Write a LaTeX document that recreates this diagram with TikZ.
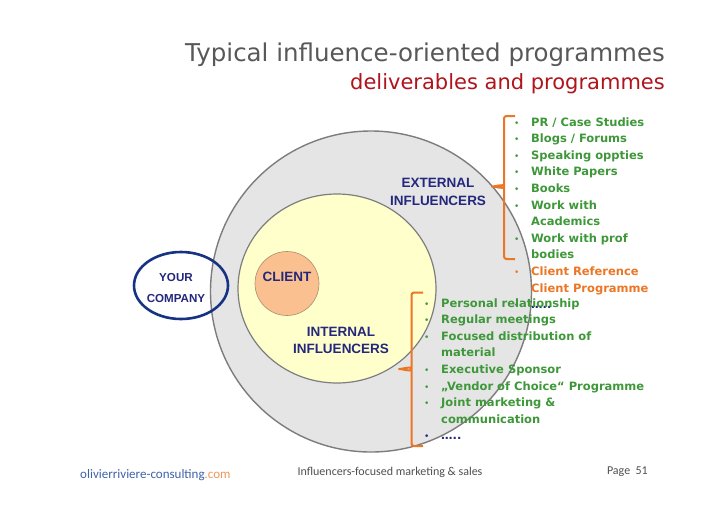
\documentclass[tikz,border=0pt]{standalone}
\usepackage{fontspec}
\setmainfont{DejaVu Sans}
\newfontfamily\arialfont{Liberation Sans}
\newfontfamily\footfont{Carlito}
\usepackage{xcolor}
\usetikzlibrary{positioning, shapes.geometric}
\definecolor{TitleGray}{RGB}{88,88,88}
\definecolor{SubRed}{RGB}{176,20,28}
\definecolor{ItemGreen}{RGB}{62,152,58}
\definecolor{BraceOrange}{RGB}{236,118,36}
\definecolor{LabelBlue}{RGB}{36,40,124}
\definecolor{CompanyBlue}{RGB}{22,50,130}
\definecolor{RingGray}{RGB}{229,229,229}
\definecolor{EdgeGray}{RGB}{125,125,125}
\definecolor{CoreYellow}{RGB}{255,255,204}
\definecolor{ClientPeach}{RGB}{250,192,143}
\definecolor{ClientEdge}{RGB}{170,140,110}
\definecolor{SiteBlue}{RGB}{62,98,168}
\definecolor{SiteOrange}{RGB}{240,150,90}
\definecolor{FootGray}{RGB}{80,80,80}
% bullet and empty slot for the lists
\newcommand{\bl}{\makebox[17pt][l]{\mdseries\fontsize{9}{9}\selectfont\textbullet}}
\newcommand{\nb}{\hspace*{17pt}}
\tikzset{
  % rings
  ring/.style={circle,draw=EdgeGray,line width=1.4pt,fill=RingGray,minimum size=321pt,inner sep=0},
  core/.style={ellipse,draw=EdgeGray,line width=1.2pt,fill=CoreYellow,minimum width=198pt,minimum height=189pt,inner sep=0},
  client disc/.style={circle,draw=ClientEdge,line width=0.6pt,fill=ClientPeach,minimum size=64pt,inner sep=0},
  company/.style={ellipse,draw=CompanyBlue,line width=2.6pt,minimum width=94pt,minimum height=67pt,inner sep=0},
  % texts
  zone text/.style={font=\arialfont\bfseries\fontsize{13.5}{17.5}\selectfont,text=LabelBlue,align=center,inner sep=0},
  list box/.style={anchor=base west,inner sep=0,font=\bfseries\fontsize{11.5}{16.6}\selectfont,text=ItemGreen},
  foot/.style={font=\footfont\fontsize{12}{14}\selectfont,inner sep=0},
  % brackets
  bracket/.style={draw=BraceOrange,line width=2pt,rounded corners=2.5pt}
}

\begin{document}
\begin{tikzpicture}[x=1pt,y=-1pt]
  \useasboundingbox[fill=white] (0,0) rectangle (728,515);
  % title
  \node[anchor=base east,inner sep=0,font=\fontsize{24.5}{28}\selectfont,text=TitleGray]
    (title) at (665,61.5) {Typical influence-oriented programmes};
  \node[anchor=base east,inner sep=0,font=\fontsize{21}{24}\selectfont,text=SubRed]
    (subtitle) at (665,89) {deliverables and programmes};
  % circles
  \node[ring] (outer) at (371,291.5) {};
  \node[core] (inner) at (337,288.5) {};
  \node[client disc] (client) at (287,283.5) {};
  \node[company] (yourco) at (181,285.5) {};
  % circle labels
  \node[zone text] (clientlbl) at (287,277) {CLIENT};
  \node[zone text,font=\arialfont\bfseries\fontsize{11.6}{20.7}\selectfont]
    (yourcolbl) at (176,288.3) {YOUR\\COMPANY};
  \node[zone text] (extlbl) at (438,192) {EXTERNAL\\INFLUENCERS};
  \node[zone text,font=\arialfont\bfseries\fontsize{13.5}{16.7}\selectfont]
    (intlbl) at (341,340.3) {INTERNAL\\INFLUENCERS};
  % external list
  \node[list box] (extlist) at (514,126) {\begin{tabular}[t]{@{}l@{}}
    \bl PR / Case Studies\\
    \bl Blogs / Forums\\
    \bl Speaking oppties\\
    \bl White Papers\\
    \bl Books\\
    \bl Work with\\
    \nb Academics\\
    \bl Work with prof\\
    \nb bodies\\
    \color{BraceOrange}\bl Client Reference\\
    \color{BraceOrange}\nb Client Programme\\
    \color{LabelBlue}\bl …..
  \end{tabular}};
  % internal list
  \node[list box] (intlist) at (424,307) {\begin{tabular}[t]{@{}l@{}}
    \bl Personal relationship\\
    \bl Regular meetings\\
    \bl Focused distribution of\\
    \nb material\\
    \bl Executive Sponsor\\
    \bl „Vendor of Choice“ Programme\\
    \bl Joint marketing \&\\
    \nb communication\\
    \color{LabelBlue}\bl …..
  \end{tabular}};
  % brackets
  \coordinate (ebtop) at (515,116);
  \coordinate (ebtip) at (490,186.5);
  \coordinate (ebbot) at (515,259);
  \draw[bracket] (ebtop) -- (504,116) -- (504,184)
    to[out=-90,in=0] (ebtip) to[out=0,in=90] (504,189) -- (504,259) -- (ebbot);
  \coordinate (ibtop) at (423,292.5);
  \coordinate (ibtip) at (397,369);
  \coordinate (ibbot) at (423,446);
  \draw[bracket] (ibtop) -- (411.5,292.5) -- (411.5,366.5)
    to[out=-90,in=0] (ibtip) to[out=0,in=90] (411.5,371.5) -- (411.5,446) -- (ibbot);
  % footer
  \node[foot,anchor=west,font=\footfont\fontsize{13}{15}\selectfont,text=SiteBlue]
    (site) at (80,475) {olivierriviere-consulting\textcolor{SiteOrange}{.com}};
  \node[foot,text=FootGray] (topic) at (390,472) {Influencers-focused marketing \& sales};
  \node[foot,text=FootGray,anchor=east] (page) at (648,472) {Page~~51};
\end{tikzpicture}
\end{document}
